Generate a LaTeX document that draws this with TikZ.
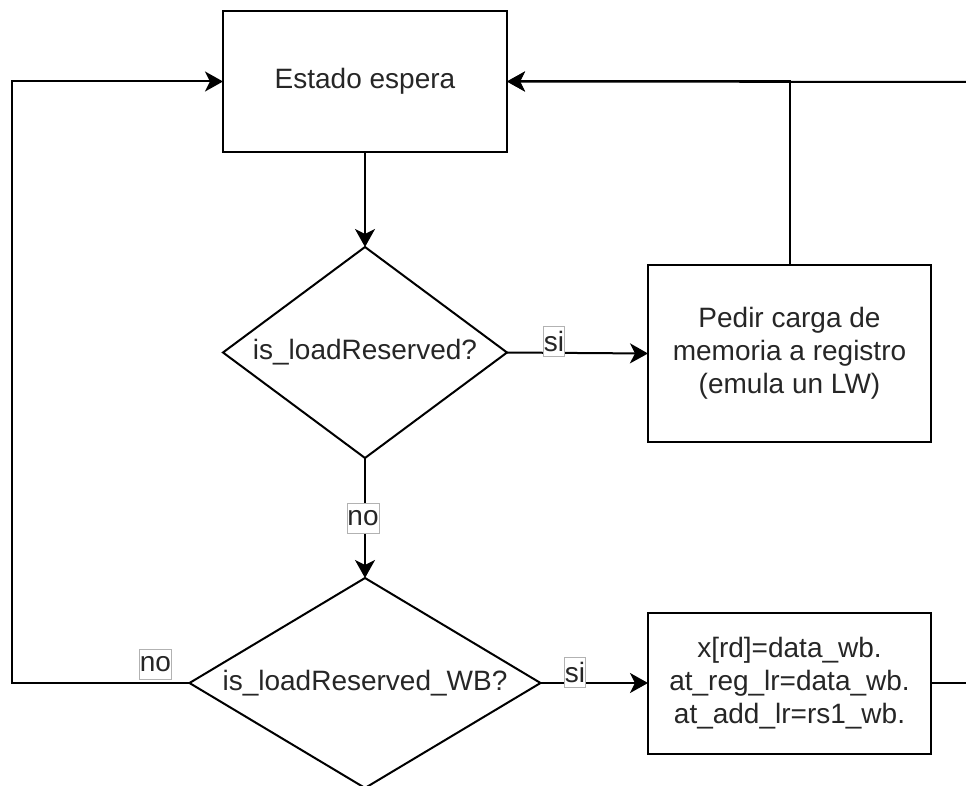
\documentclass[tikz,border=0pt]{standalone}
\usepackage{fontspec}
\setmainfont{Liberation Sans}
\usetikzlibrary{shapes.geometric,arrows.meta}
\tikzset{
  tipclassic/.tip={Stealth[length=18pt,width=20pt,inset=5pt]}
}
\begin{document}
\begin{tikzpicture}[x=1pt,y=-1pt,
  every node/.style={font=\fontsize{28}{33}\selectfont, text=black!85},
  proc/.style={draw=black, line width=2pt, inner sep=0pt, outer sep=0pt, align=center},
  decision/.style={draw=black, diamond, line width=2pt, inner sep=0pt, outer sep=0pt},
  flow/.style={line width=2pt, arrows={-tipclassic}},
  plain/.style={line width=2pt},
  tag/.style={draw=black!30, line width=0.8pt, fill=white, inner xsep=0.5pt, inner ysep=0pt,
              minimum height=30pt}]
  \useasboundingbox (0,0) rectangle (966,786);

  % process boxes
  \node[proc, minimum width=284pt, minimum height=141pt] (espera) at (365,81.5) {Estado espera};
  \node[proc, minimum width=283pt, minimum height=177pt] (pedir) at (789.5,353.5)
    {Pedir carga de\\memoria a registro\\(emula un LW)};
  \node[proc, minimum width=283pt, minimum height=141pt] (wb) at (789.5,683)
    {x[rd]=data\_wb.\\at\_reg\_lr=data\_wb.\\at\_add\_lr=rs1\_wb.};

  % decisions
  \node[decision, minimum width=284pt, minimum height=211pt,
        label={center:is\_loadReserved?}] (lr) at (365,352.5) {};
  \node[decision, minimum width=351pt, minimum height=210pt,
        label={center:is\_loadReserved\_WB?}] (lrwb) at (365,683) {};

  % free ends at the picture border
  \coordinate (leftx) at (12,683);
  \coordinate (topin) at (966,82);
  \coordinate (wbout) at (966,683);

  % connectors
  \draw[flow] (espera.south) -- (lr.north);
  \draw[flow] (lr.east) -- (pedir.west);
  \draw[flow] (lr.south) -- (lrwb.north);
  \draw[flow] (lrwb.east) -- (wb.west);
  \draw[flow] (lrwb.west) -- (leftx) |- (espera.west);
  \draw[flow] (pedir.north) |- (espera.east);
  \draw[flow] (topin) -- (espera.east);
  \draw[plain] (wb.east) -- (wbout);

  % connector labels
  \node[tag] (si1) at (554,341) {si};
  \node[tag] (no1) at (363,518) {no};
  \node[tag] (si2) at (575,672) {si};
  \node[tag] (no2) at (155.5,664.5) {no};
\end{tikzpicture}
\end{document}
